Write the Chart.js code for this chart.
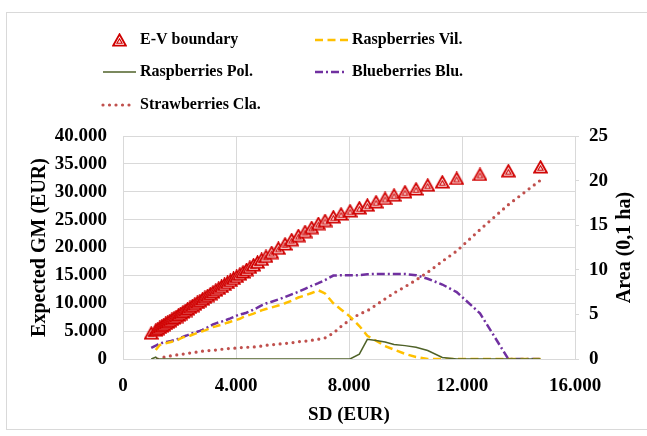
<!DOCTYPE html>
<html>
<head>
<meta charset="utf-8">
<script src="https://cdn.jsdelivr.net/npm/chart.js@4.4.1/dist/chart.umd.min.js"></script>
<style>
  html, body { margin: 0; padding: 0; background: #fff; }
  #wrap { position: relative; width: 647px; height: 436px; }
</style>
</head>
<body>
<div id="wrap"><canvas id="chart" width="647" height="436"></canvas></div>
<script>
// SD (EUR) of each point on the E-V boundary
const sd = [1000, 1160, 1230, 1300, 1370, 1440, 1510, 1580, 1655, 1730,
  1805, 1880, 1960, 2040, 2120, 2200, 2285, 2370, 2455, 2540,
  2630, 2720, 2810, 2900, 2995, 3090, 3185, 3285, 3385, 3485,
  3590, 3695, 3800, 3910, 4020, 4135, 4250, 4370, 4490, 4620,
  4760, 4905, 5060, 5262, 5498, 5735, 5971, 6207, 6443, 6679,
  6915, 7151, 7445, 7717, 8036, 8366, 8649, 8956, 9275, 9593,
  9982, 10372, 10786, 11303, 11812, 12637, 13640, 14780];

// expected GM (EUR), left axis
const gm = [4650, 5190, 5425, 5660, 5900, 6135, 6370, 6605, 6860, 7110,
  7365, 7615, 7885, 8155, 8425, 8695, 8980, 9265, 9555, 9840,
  10145, 10445, 10750, 11055, 11375, 11695, 12015, 12350, 12690, 13025,
  13380, 13730, 14085, 14455, 14820, 15215, 15610, 16025, 16440, 16890,
  17370, 17870, 18400, 19100, 19865, 20635, 21400, 22135, 22855, 23580,
  24300, 24835, 25500, 26000, 26580, 27110, 27600, 28190, 28800, 29390,
  29980, 30500, 31180, 31770, 32380, 33100, 33760, 34460];

// area (0,1 ha), right axis
const rasVil = [null, 1.0, 1.3, 1.57, 1.65, 1.71, 1.77, 1.82, 1.88, 1.94,
  1.99, 2.06, 2.17, 2.3, 2.42, 2.49, 2.55, 2.61, 2.72, 2.81,
  2.92, 3.02, 3.11, 3.21, 3.33, 3.46, 3.58, 3.66, 3.75, 3.84,
  3.95, 4.07, 4.18, 4.29, 4.39, 4.51, 4.7, 4.84, 4.95, 5.09,
  5.27, 5.45, 5.6, 5.78, 5.99, 6.25, 6.54, 6.89, 7.12, 7.4,
  7.7, 7.35, 6.25, 5.55, 4.75, 3.7, 2.6, 2.05, 1.45, 1.05,
  0.58, 0.22, 0, 0, 0, 0, 0, 0];

const rasPol = [0, 0.2, 0, 0, 0, 0, 0, 0, 0, 0,
  0, 0, 0, 0, 0, 0, 0, 0, 0, 0,
  0, 0, 0, 0, 0, 0, 0, 0, 0, 0,
  0, 0, 0, 0, 0, 0, 0, 0, 0, 0,
  0, 0, 0, 0, 0, 0, 0, 0, 0, 0,
  0, 0, 0, 0, 0, 0.55, 2.2, 2.08, 1.9, 1.62,
  1.5, 1.32, 0.95, 0.18, 0, 0, 0, 0];

const bluBlu = [1.25, 1.5, 1.62, 1.73, 1.8, 1.84, 1.89, 1.94, 1.98, 2.04,
  2.1, 2.18, 2.27, 2.38, 2.49, 2.58, 2.68, 2.79, 2.89, 2.97,
  3.05, 3.15, 3.27, 3.41, 3.55, 3.7, 3.87, 4.0, 4.1, 4.19,
  4.3, 4.43, 4.55, 4.7, 4.86, 4.98, 5.08, 5.19, 5.34, 5.53,
  5.75, 6.01, 6.22, 6.42, 6.67, 6.95, 7.24, 7.53, 7.86, 8.2,
  8.5, 8.85, 9.35, 9.38, 9.38, 9.4, 9.5, 9.53, 9.53, 9.53,
  9.53, 9.4, 9.0, 8.35, 7.5, 5.12, 0, 0];

const strCla = [null, null, 0, 0.09, 0.14, 0.19, 0.25, 0.28, 0.33, 0.37,
  0.41, 0.44, 0.48, 0.51, 0.55, 0.59, 0.63, 0.67, 0.71, 0.74,
  0.78, 0.83, 0.87, 0.91, 0.94, 0.96, 0.98, 1.0, 1.04, 1.09,
  1.13, 1.16, 1.19, 1.21, 1.23, 1.26, 1.3, 1.31, 1.33, 1.35,
  1.39, 1.45, 1.54, 1.59, 1.67, 1.74, 1.82, 1.94, 2.0, 2.1,
  2.21, 2.36, 2.9, 3.65, 4.4, 5.04, 5.4, 6.05, 6.73, 7.4,
  8.1, 8.85, 9.72, 10.95, 12.1, 14.5, 17.3, 20.05];

const seriesNames = ["E-V boundary", "Raspberries Vil.", "Raspberries Pol.", "Blueberries Blu.", "Strawberries Cla."];

const xTitle = "SD (EUR)";
const yTitle = "Expected GM (EUR)";
const y1Title = "Area (0,1 ha)";

const FONT = '"Liberation Serif", "Times New Roman", serif';
Chart.defaults.font.family = FONT;
Chart.defaults.font.weight = "bold";
Chart.defaults.color = "#000";

function pts(ys) {
  return sd.map((x, i) => ({ x: x, y: ys[i] }));
}

function fmtDots(v) {
  return v === 0 ? "0" : String(v).replace(/\B(?=(\d{3})+(?!\d))/g, ".");
}

// hollow triangle with an inner outline, like the spreadsheet marker
function makeMarker() {
  const c = document.createElement("canvas");
  c.width = 15;
  c.height = 14;
  const g = c.getContext("2d");
  g.strokeStyle = "#d00000";
  g.beginPath();
  g.moveTo(7.5, 1.3);
  g.lineTo(13.9, 12.7);
  g.lineTo(1.1, 12.7);
  g.closePath();
  g.fillStyle = "#fff";
  g.fill();
  g.lineWidth = 1.8;
  g.stroke();
  g.beginPath();
  g.moveTo(7.5, 5.8);
  g.lineTo(10.1, 10.3);
  g.lineTo(4.9, 10.3);
  g.closePath();
  g.fillStyle = "#fbe3e3";
  g.fill();
  g.lineWidth = 1.1;
  g.stroke();
  return c;
}
const marker = makeMarker();

const gridColor = "#d9d9d9";

// legend placement (symbol start, symbol end, text x, row y)
const legendSpots = [
  { x0: 113, x1: 126, tx: 140, y: 40 },
  { x0: 315, x1: 348, tx: 352, y: 40 },
  { x0: 103, x1: 136, tx: 140, y: 72 },
  { x0: 315, x1: 344, tx: 352, y: 72 },
  { x0: 103, x1: 134, tx: 140, y: 105 },
];

const decorPlugin = {
  id: "decor",
  beforeDraw(chart) {
    const ctx = chart.ctx;
    ctx.save();
    ctx.strokeStyle = gridColor;
    ctx.lineWidth = 1;
    ctx.strokeRect(6.5, 12.5, 700, 417);
    ctx.restore();
  },
  afterDraw(chart) {
    const ctx = chart.ctx;
    const area = chart.chartArea;
    ctx.save();
    // right axis title, reading bottom to top
    ctx.translate(625, (area.top + area.bottom) / 2);
    ctx.rotate(-Math.PI / 2);
    ctx.font = "bold 20px " + FONT;
    ctx.textAlign = "center";
    ctx.textBaseline = "middle";
    ctx.fillStyle = "#000";
    ctx.fillText(y1Title, 0, 0);
    ctx.restore();

    // legend
    chart.data.datasets.forEach((ds, i) => {
      const s = legendSpots[i];
      ctx.save();
      if (ds.showLine === false) {
        ctx.drawImage(marker, Math.round((s.x0 + s.x1) / 2 - 7.5), s.y - 7);
      } else {
        ctx.strokeStyle = ds.borderColor;
        ctx.lineWidth = ds.borderWidth;
        ctx.lineCap = ds.borderCapStyle || "butt";
        ctx.setLineDash(ds.borderDash || []);
        ctx.beginPath();
        ctx.moveTo(s.x0, s.y);
        ctx.lineTo(s.x1, s.y);
        ctx.stroke();
      }
      ctx.setLineDash([]);
      ctx.font = "bold 16px " + FONT;
      ctx.textAlign = "left";
      ctx.textBaseline = "middle";
      ctx.fillStyle = "#000";
      ctx.fillText(ds.label, s.tx, s.y);
      ctx.restore();
    });
  },
};

new Chart(document.getElementById("chart"), {
  type: "line",
  data: {
    datasets: [
      {
        label: seriesNames[0],
        data: pts(gm),
        yAxisID: "y",
        showLine: false,
        pointStyle: marker,
        pointRadius: 7,
        order: 5,
      },
      {
        label: seriesNames[1],
        data: pts(rasVil),
        yAxisID: "y1",
        borderColor: "#FFC000",
        borderWidth: 2.5,
        borderDash: [8, 4.5],
        pointRadius: 0,
        order: 2,
      },
      {
        label: seriesNames[2],
        data: pts(rasPol),
        yAxisID: "y1",
        borderColor: "#4F6228",
        borderWidth: 1.5,
        pointRadius: 0,
        order: 1,
      },
      {
        label: seriesNames[3],
        data: pts(bluBlu),
        yAxisID: "y1",
        borderColor: "#7030A0",
        borderWidth: 2.5,
        borderDash: [8, 3, 2, 3],
        pointRadius: 0,
        order: 3,
      },
      {
        label: seriesNames[4],
        data: pts(strCla),
        yAxisID: "y1",
        borderColor: "#C0504D",
        borderWidth: 3.2,
        borderDash: [0, 6.5],
        borderCapStyle: "round",
        pointRadius: 0,
        order: 4,
      },
    ],
  },
  options: {
    responsive: false,
    animation: false,
    spanGaps: false,
    layout: { padding: { top: 136, left: 0, right: 0, bottom: 0 } },
    plugins: { legend: { display: false }, tooltip: { enabled: false } },
    elements: { line: { tension: 0 } },
    scales: {
      x: {
        type: "linear",
        min: 0,
        max: 16000,
        ticks: { stepSize: 4000, callback: fmtDots, font: { size: 19 }, padding: 16 },
        grid: { color: gridColor, drawTicks: false },
        border: { color: gridColor },
        title: { display: true, text: xTitle, font: { size: 19 }, padding: { top: 0, bottom: 10 } },
        afterFit: (s) => { s.height = 77; },
      },
      y: {
        position: "left",
        min: 0,
        max: 40000,
        ticks: { stepSize: 5000, callback: fmtDots, font: { size: 19 }, padding: 16 },
        grid: { color: gridColor, drawTicks: false },
        border: { color: gridColor },
        title: { display: true, text: yTitle, font: { size: 20 }, padding: { top: 28, bottom: 0 } },
        afterFit: (s) => { s.width = 123; },
      },
      y1: {
        position: "right",
        min: 0,
        max: 25,
        ticks: { stepSize: 5, font: { size: 19 }, padding: 10 },
        grid: { drawOnChartArea: false, color: gridColor, tickLength: 4 },
        border: { color: gridColor },
        afterFit: (s) => { s.width = 72; },
      },
    },
  },
  plugins: [decorPlugin],
});
</script>
</body>
</html>
